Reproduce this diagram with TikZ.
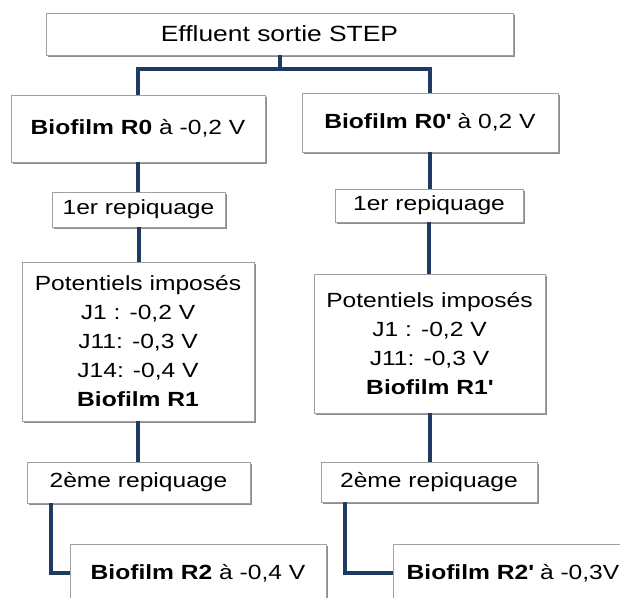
\documentclass[tikz,border=0pt]{standalone}
\usepackage{fontspec}
\setmainfont{Liberation Sans}[FakeStretch=1.2]
\usetikzlibrary{positioning,shadows}
\definecolor{navy}{HTML}{1F3A63}
\definecolor{boxline}{HTML}{A0A0A0}
\tikzset{
  stepbox/.style={draw=boxline, line width=0.8pt, fill=white, inner sep=2pt, align=center,
                  font=\fontsize{20.5}{29}\selectfont,
                  drop shadow={shadow xshift=1.6pt, shadow yshift=-1.6pt, fill=black!45, opacity=1}},
  conn/.style={draw=navy, line width=4pt}}

\begin{document}
\begin{tikzpicture}[x=1pt,y=-1pt]
  \useasboundingbox (0,0) rectangle (620,597);
  % source
  \node[stepbox, minimum width=467pt, minimum height=42pt, font=\fontsize{22}{26}\selectfont]
    (eff) at (279.5,34) {Effluent sortie STEP};
  % first biofilms
  \node[stepbox, minimum width=254pt, minimum height=67pt] (r0) at (138,128.5)
    {\textbf{Biofilm R0} à -0,2 V};
  \node[stepbox, minimum width=256pt, minimum height=59pt] (r0p) at (430,122.5)
    {\textbf{Biofilm R0\textquotesingle} à 0,2 V};
  % first transfer
  \node[stepbox, minimum width=173pt, minimum height=35pt] (rep1a) at (138.5,209.5) {1er repiquage};
  \node[stepbox, minimum width=188pt, minimum height=33pt] (rep1b) at (429,205.5) {1er repiquage};
  % imposed potentials
  \node[stepbox, minimum width=232pt, minimum height=159pt] (pota) at (138,341.5)
    {Potentiels imposés\\J1 : -0,2 V\\J11: -0,3 V\\J14: -0,4 V\\\textbf{Biofilm R1}};
  \node[stepbox, minimum width=231pt, minimum height=139pt] (potb) at (429.5,343.5)
    {Potentiels imposés\\J1 : -0,2 V\\J11: -0,3 V\\\textbf{Biofilm R1\textquotesingle}};
  % second transfer
  \node[stepbox, minimum width=223pt, minimum height=41pt] (rep2a) at (138.5,482.5) {2ème repiquage};
  \node[stepbox, minimum width=216pt, minimum height=40pt] (rep2b) at (429,482) {2ème repiquage};
  % final biofilms
  \node[stepbox, minimum width=256pt, minimum height=58pt] (r2a) at (198,573)
    {\textbf{Biofilm R2} à -0,4 V};
  \node[stepbox, minimum width=240pt, minimum height=58pt] (r2b) at (513,573)
    {\textbf{Biofilm R2\textquotesingle} à -0,3V};

  % links
  \coordinate (fork) at (279.5,69);
  \draw[conn] (eff.south) -- (fork);
  \draw[conn] (fork) -| (r0.north);
  \draw[conn] (fork) -| (r0p.north);
  \draw[conn] (r0.south) -- (r0.south |- rep1a.north);
  \draw[conn] (rep1a.south) -- (rep1a.south |- pota.north);
  \draw[conn] (pota.south) -- (pota.south |- rep2a.north);
  \draw[conn] (r0p.south) -- (r0p.south |- rep1b.north);
  \draw[conn] (rep1b.south) -- (rep1b.south |- potb.north);
  \draw[conn] (potb.south) -- (potb.south |- rep2b.north);
  \draw[conn] ([xshift=24pt]rep2a.south west) |- (r2a.west);
  \draw[conn] ([xshift=24pt]rep2b.south west) |- (r2b.west);
\end{tikzpicture}
\end{document}
